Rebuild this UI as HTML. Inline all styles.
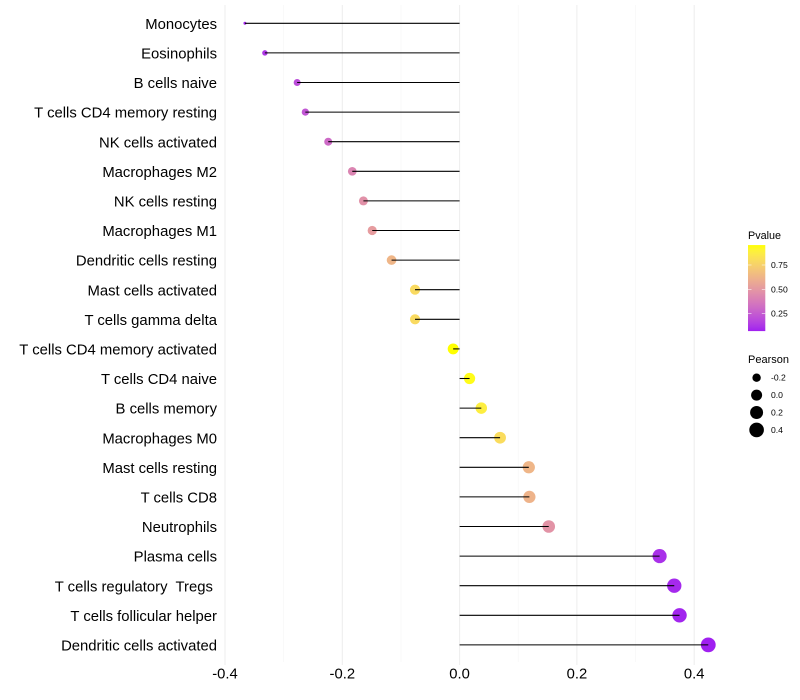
<!DOCTYPE html>
<html>
<head>
<meta charset="utf-8">
<title>Pearson lollipop chart</title>
<style>
html,body{margin:0;padding:0;background:#fff;width:800px;height:700px;overflow:hidden}
svg{display:block}
text{font-family:"Liberation Sans",sans-serif}
</style>
</head>
<body>
<svg id="chart" width="800" height="700" viewBox="0 0 800 700" xmlns="http://www.w3.org/2000/svg">
  <defs><linearGradient id="pvalue-gradient" x1="0" y1="1" x2="0" y2="0"></linearGradient></defs>
  <rect width="800" height="700" fill="#ffffff"></rect>
  <g id="grid"></g>
  <g id="labels"></g>
  <g id="ticks"></g>
  <g id="dots"></g>
  <g id="stems"></g>
  <g id="legend-color">
    <text x="748" y="239" font-size="10.8" fill="#000">Pvalue</text>
  </g>
  <g id="legend-size">
    <text x="748" y="363" font-size="11" fill="#000">Pearson</text>
  </g>
</svg>
<script>
var categories = ["Monocytes","Eosinophils","B cells naive","T cells CD4 memory resting","NK cells activated","Macrophages M2","NK cells resting","Macrophages M1","Dendritic cells resting","Mast cells activated","T cells gamma delta","T cells CD4 memory activated","T cells CD4 naive","B cells memory","Macrophages M0","Mast cells resting","T cells CD8","Neutrophils","Plasma cells","T cells regulatory  Tregs ","T cells follicular helper","Dendritic cells activated"];
var pearson = [-0.366,-0.332,-0.277,-0.263,-0.224,-0.183,-0.164,-0.149,-0.116,-0.076,-0.076,-0.011,0.017,0.037,0.069,0.118,0.119,0.152,0.341,0.366,0.375,0.424];
var pvalue = [0.09,0.13,0.2,0.23,0.31,0.42,0.47,0.52,0.63,0.79,0.79,0.955,0.94,0.88,0.8,0.63,0.62,0.48,0.11,0.09,0.08,0.07];
var xTicks = [-0.4,-0.2,0,0.2,0.4];
var xMinorGrid = [-0.3,-0.1,0.1,0.3];
var xTickLabels = ["-0.4","-0.2","0.0","0.2","0.4"];
var pvalueTicks = [0.25,0.5,0.75];
var pvalueTickLabels = ["0.25","0.50","0.75"];
var pearsonLegend = [-0.2,0,0.2,0.4];
var pearsonLegendLabels = ["-0.2","0.0","0.2","0.4"];

var NS = "http://www.w3.org/2000/svg";
function make(tag, attrs, parent) {
  var el = document.createElementNS(NS, tag);
  for (var k in attrs) el.setAttribute(k, attrs[k]);
  parent.appendChild(el);
  return el;
}
function x(v) { return 459.6 + v * 586.5; }
function y(i) { return 23.3 + i * 29.6; }
var minP = 0.07, maxP = 0.955;
var minR = -0.366, maxR = 0.424;
function radius(v) {
  var t = Math.max(0, (v - minR) / (maxR - minR));
  return 1.5 + 5.9 * Math.sqrt(t);
}
function legendY(p) { return 289.3 - (p - 0.5) * 97.2; }

function toLab(hex) {
  var c = [1,3,5].map(function (i) {
    var u = parseInt(hex.substr(i,2),16) / 255;
    return u > 0.04045 ? Math.pow((u + 0.055) / 1.055, 2.4) : u / 12.92;
  });
  var X = (0.4124*c[0] + 0.3576*c[1] + 0.1805*c[2]) / 0.95047;
  var Y = 0.2126*c[0] + 0.7152*c[1] + 0.0722*c[2];
  var Z = (0.0193*c[0] + 0.1192*c[1] + 0.9505*c[2]) / 1.08883;
  function f(t) { return t > 0.008856 ? Math.cbrt(t) : 7.787*t + 16/116; }
  return [116*f(Y)-16, 500*(f(X)-f(Y)), 200*(f(Y)-f(Z))];
}
function fromLab(l) {
  var fy = (l[0]+16)/116, fx = fy + l[1]/500, fz = fy - l[2]/200;
  function g(t) { return t*t*t > 0.008856 ? t*t*t : (t-16/116)/7.787; }
  var X = g(fx)*0.95047, Y = g(fy), Z = g(fz)*1.08883;
  var rgb = [3.2406*X-1.5372*Y-0.4986*Z, -0.9689*X+1.8758*Y+0.0415*Z, 0.0557*X-0.2040*Y+1.0570*Z];
  return "rgb(" + rgb.map(function (u) {
    u = Math.max(0, Math.min(1, u));
    u = u > 0.0031308 ? 1.055*Math.pow(u,1/2.4)-0.055 : 12.92*u;
    return Math.round(u*255);
  }).join(",") + ")";
}
var labLow = toLab("#A020F0"), labHigh = toLab("#FFFF00");
function colorAt(t) {
  return fromLab(labLow.map(function (a, i) { return a + (labHigh[i]-a)*t; }));
}
function color(p) { return colorAt((p - minP) / (maxP - minP)); }

var grid = document.getElementById("grid");
xMinorGrid.forEach(function (v) {
  var el = make("line", {x1:x(v), x2:x(v), y1:5, y2:662, stroke:"#f5f5f5", "stroke-width":0.6}, grid);
  
  
});
xTicks.forEach(function (v) {
  var el = make("line", {x1:x(v), x2:x(v), y1:5, y2:665, stroke:"#eeeeee", "stroke-width":1.07}, grid);
  
  
});

var labels = document.getElementById("labels");
categories.forEach(function (c, i) {
  var el = make("text", {x:217, y:y(i)+5.6, "text-anchor":"end", "font-size":14.85, fill:"#000", "xml:space":"preserve"}, labels);
  el.style.whiteSpace = "pre";
  el.textContent = c;
  
  
});

var ticks = document.getElementById("ticks");
xTicks.forEach(function (v, i) {
  var el = make("text", {x:x(v), y:678.7, "text-anchor":"middle", "font-size":14.8, fill:"#000"}, ticks);
  el.textContent = xTickLabels[i];
  
  
});

var dots = document.getElementById("dots"), stems = document.getElementById("stems");
pearson.forEach(function (v, i) {
  var d = make("circle", {cx:x(v), cy:y(i), r:radius(v), fill:color(pvalue[i])}, dots);
  
  
  var s = make("line", {x1:x(0), x2:x(v), y1:y(i), y2:y(i), stroke:"#000", "stroke-width":1.07}, stems);
  
  
});

var gradient = document.getElementById("pvalue-gradient");
for (var s = 0; s <= 20; s++) {
  make("stop", {offset:(s*5)+"%", "stop-color":colorAt(s/20)}, gradient);
}
var legendColor = document.getElementById("legend-color");
var bar = make("rect", {x:748, y:legendY(maxP), width:17.3, height:legendY(minP)-legendY(maxP), fill:"url(#pvalue-gradient)"}, legendColor);


pvalueTicks.forEach(function (p, i) {
  var t1 = make("line", {x1:748, x2:751.5, y1:legendY(p), y2:legendY(p), stroke:"#fff", "stroke-width":0.55}, legendColor);
  
  
  var t2 = make("line", {x1:761.8, x2:765.3, y1:legendY(p), y2:legendY(p), stroke:"#fff", "stroke-width":0.55}, legendColor);
  
  
  var t = make("text", {x:771, y:legendY(p)+3, "font-size":8.6, fill:"#000"}, legendColor);
  t.textContent = pvalueTickLabels[i];
  
  
});

var legendSize = document.getElementById("legend-size");
pearsonLegend.forEach(function (v, i) {
  var ly = 377.7 + i * 17.4;
  var c = make("circle", {cx:756.6, cy:ly, r:radius(v), fill:"#000"}, legendSize);
  
  
  var t = make("text", {x:771, y:ly+3, "font-size":8.6, fill:"#000"}, legendSize);
  t.textContent = pearsonLegendLabels[i];
  
  
});
</script>
</body>
</html>
